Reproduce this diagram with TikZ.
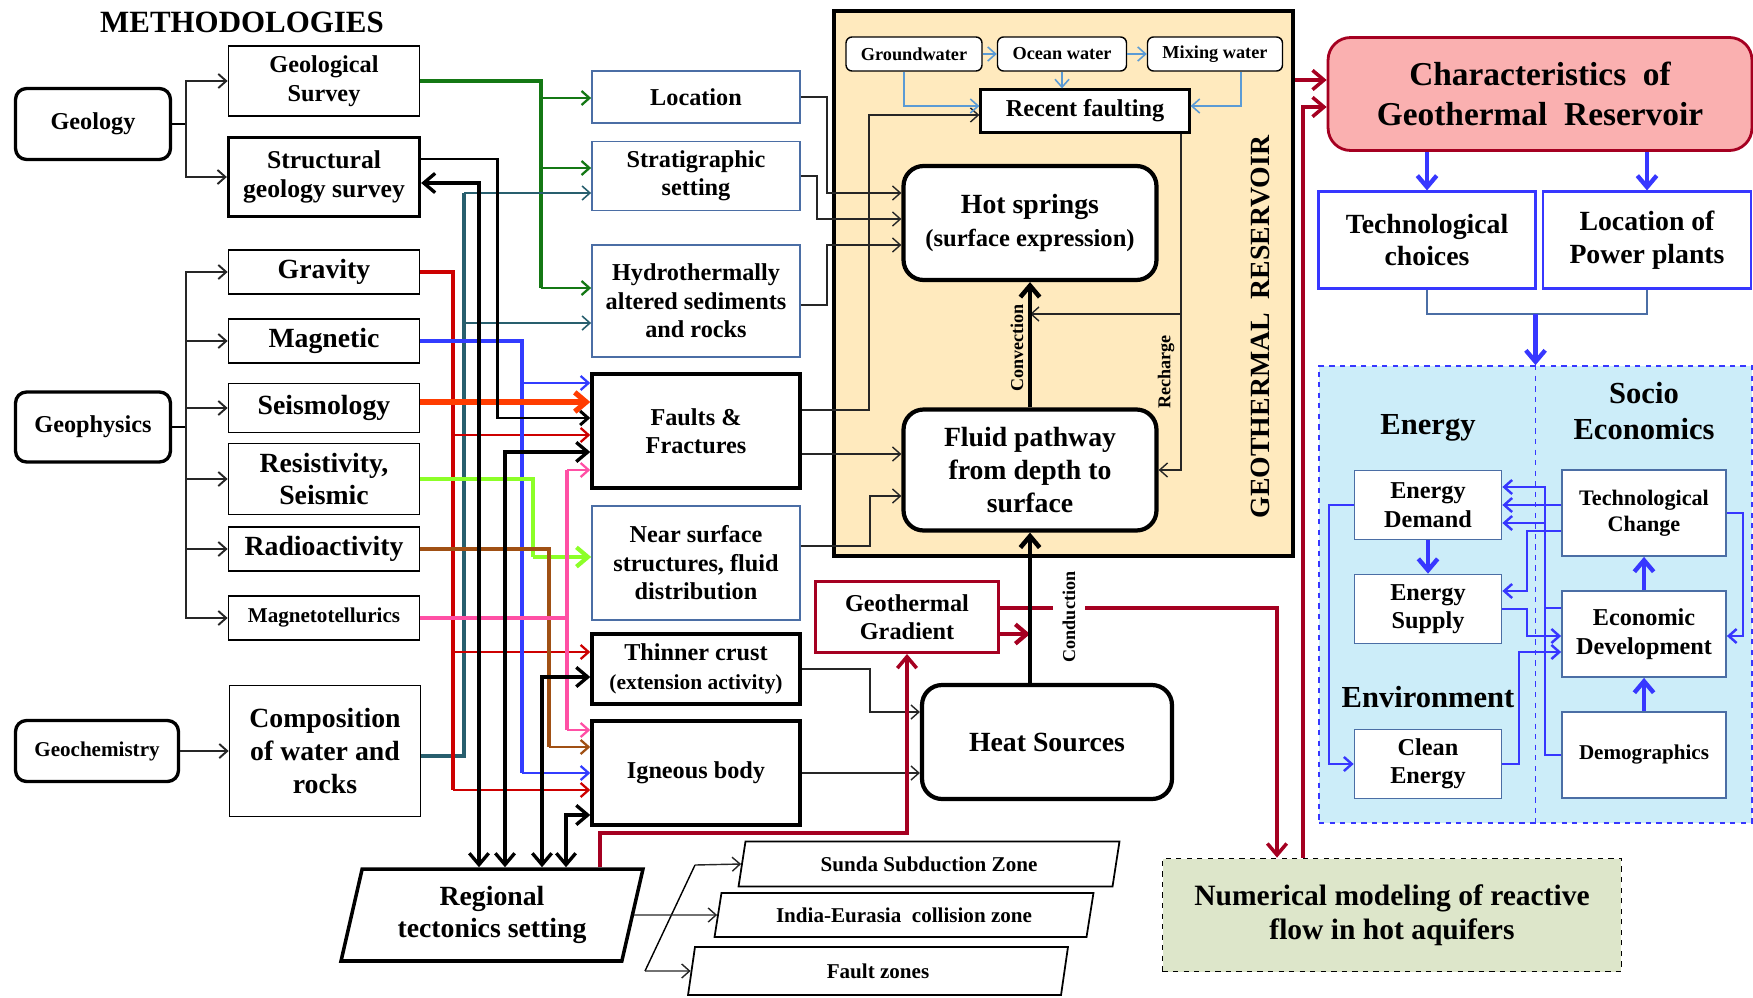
\documentclass[tikz,border=0pt]{standalone}
\usepackage{fontspec}
\setmainfont{Liberation Serif}
\usetikzlibrary{arrows.meta,positioning,calc,shapes.geometric}

\definecolor{crim}{RGB}{165,0,33}
\definecolor{pinkfill}{RGB}{250,176,176}
\definecolor{resfill}{RGB}{255,234,190}
\definecolor{cyanfill}{RGB}{204,237,249}
\definecolor{olivefill}{RGB}{221,230,202}
\definecolor{blu}{RGB}{55,55,255}
\definecolor{steel}{RGB}{75,110,165}
\definecolor{skyln}{RGB}{91,155,213}
\definecolor{grnln}{RGB}{20,120,20}
\definecolor{tealln}{RGB}{40,95,110}
\definecolor{redln}{RGB}{205,0,0}
\definecolor{magln}{RGB}{50,60,255}
\definecolor{orgln}{RGB}{255,60,0}
\definecolor{limeln}{RGB}{140,255,40}
\definecolor{brnln}{RGB}{160,80,20}
\definecolor{pnkln}{RGB}{255,80,165}

\begin{document}
\begin{tikzpicture}[x=0.02cm, y=-0.02cm,
  fmid/.style={font=\fontsize{13.8}{16.2}\selectfont\bfseries},
  fbig/.style={font=\fontsize{15.8}{18.6}\selectfont\bfseries},
  fsml/.style={font=\fontsize{12}{14}\selectfont\bfseries},
  ftiny/.style={font=\fontsize{10.3}{12}\selectfont\bfseries},
  fhead/.style={font=\fontsize{17.4}{20.4}\selectfont\bfseries},
  box/.style={draw, line width=1pt, fill=white, align=center, inner sep=0pt, fmid},
  leftbox/.style={box, minimum width=3.82cm},
  midbox/.style={box, draw=steel, minimum width=4.16cm},
  heavybox/.style={box, line width=2pt, minimum width=4.16cm},
  roundbox/.style={box, rounded corners=0.22cm, line width=1.9pt},
  biground/.style={box, rounded corners=0.4cm, line width=2.4pt, fbig},
  waterbox/.style={box, rounded corners=0.12cm, line width=0.8pt, minimum height=0.68cm, font=\fontsize{10.4}{12}\selectfont\bfseries},
  slant/.style={trapezium, trapezium left angle=65, trapezium right angle=115, trapezium stretches body, draw, line width=1pt, align=center, inner sep=0pt, fsml},
  ebox/.style={box, draw=steel, minimum width=2.94cm, minimum height=1.38cm},
  sbox/.style={box, draw=steel, minimum width=3.28cm, minimum height=1.72cm},
  tip/.style={-{Straight Barb[length=4.5pt,width=8pt]}},
  bigtip/.style={-{Straight Barb[length=6.5pt,width=11pt]}},
  arr/.style={tip, line width=0.8pt, draw=black!85},
  skyarr/.style={tip, line width=0.9pt, draw=skyln},
  bus/.style={line width=2.2pt},
  stub/.style={tip, line width=1.3pt},
  both/.style={{Straight Barb[length=6.5pt,width=11pt]}-{Straight Barb[length=6.5pt,width=11pt]}, line width=1.9pt},
  crarr/.style={bigtip, line width=2pt, draw=crim},
  bluarr/.style={tip, line width=1.4pt, draw=blu},
  bluthick/.style={bigtip, line width=2.5pt, draw=blu}
]
\useasboundingbox (0,0) rectangle (1753,997);

% methodologies
\node[font=\fontsize{17.6}{20}\selectfont\bfseries] (title) at (242,22) {METHODOLOGIES};
\node[roundbox, minimum width=3.1cm, minimum height=1.42cm] (geology) at (93,124) {Geology};
\node[roundbox, minimum width=3.1cm, minimum height=1.4cm] (geophys) at (93,427) {Geophysics};
\node[roundbox, fsml, minimum width=3.26cm, minimum height=1.22cm] (geochem) at (97,751) {Geochemistry};

\node[leftbox, minimum height=1.4cm] (gsurvey) at (324,81) {Geological\\Survey};
\node[leftbox, line width=1.9pt, minimum height=1.58cm, font=\fontsize{14.6}{16.8}\selectfont\bfseries] (struct) at (324,177) {Structural\\geology survey};
\node[leftbox, fbig, minimum height=0.88cm] (gravity) at (324,272) {Gravity};
\node[leftbox, fbig, minimum height=0.88cm] (magnetic) at (324,341) {Magnetic};
\node[leftbox, fbig, minimum height=0.98cm] (seismo) at (324,408) {Seismology};
\node[leftbox, fbig, minimum height=1.42cm] (resist) at (324,479) {Resistivity,\\Seismic};
\node[leftbox, fbig, minimum height=0.88cm] (radio) at (324,549) {Radioactivity};
\node[leftbox, fsml, minimum height=0.88cm] (mtell) at (324,618) {Magnetotellurics};
\node[leftbox, fbig, minimum height=2.62cm] (compo) at (325,751) {Composition\\of water and\\rocks};

% targets
\node[midbox, minimum height=1.04cm] (location) at (696,97) {Location};
\node[midbox, minimum height=1.38cm] (strati) at (696,176) {Stratigraphic\\setting};
\node[midbox, minimum height=2.24cm] (hydro) at (696,301) {Hydrothermally\\altered sediments\\and rocks};
\node[heavybox, minimum height=2.28cm] (faults) at (696,431) {Faults \&\\Fractures};
\node[midbox, minimum height=2.28cm] (nearsurf) at (696,563) {Near surface\\structures, fluid\\distribution};
\node[heavybox, minimum height=1.4cm] (thinner) at (696,669) {Thinner crust\\{\fontsize{12.2}{14}\selectfont(extension activity)}};
\node[heavybox, minimum height=2.08cm] (igneous) at (696,773) {Igneous body};

\node[slant, trapezium left angle=70, trapezium right angle=110, fbig, line width=2pt, minimum width=6.04cm, minimum height=1.84cm] (regional) at (492,915) {Regional\\tectonics setting};
\node[slant, minimum width=7.62cm, minimum height=0.9cm] (sunda) at (929,864) {Sunda Subduction Zone};
\node[slant, minimum width=7.58cm, minimum height=0.88cm] (india) at (904,915) {India-Eurasia\ \ collision zone};
\node[slant, minimum width=7.6cm, minimum height=0.96cm] (faultz) at (878,971) {Fault zones};

% reservoir
\node[draw, line width=2pt, fill=resfill, minimum width=9.18cm, minimum height=10.9cm, inner sep=0pt] (res) at (1063.5,283.5) {};
\node[waterbox, minimum width=2.72cm] (groundw) at (914,54) {Groundwater};
\node[waterbox, minimum width=2.58cm] (oceanw) at (1062,54) {Ocean water};
\node[waterbox, minimum width=2.7cm] (mixw) at (1215,54) {Mixing water};
\node[box, line width=1.3pt, minimum width=4.18cm, minimum height=0.86cm] (recent) at (1085,111) {Recent faulting};
\node[biground, minimum width=5.06cm, minimum height=2.28cm] (hotspr) at (1030,223) {Hot springs\\{\fontsize{14}{16}\selectfont(surface expression)}};
\node[biground, minimum width=5.06cm, minimum height=2.42cm] (fluid) at (1030,470) {Fluid pathway\\from depth to\\surface};
\node[rotate=90, fbig] (reslbl) at (1260,327) {GEOTHERMAL\ \ RESERVOIR};

\node[biground, minimum width=5cm, minimum height=2.28cm] (heat) at (1047,742) {Heat Sources};
\node[box, draw=crim, line width=1.7pt, minimum width=3.66cm, minimum height=1.42cm] (geograd) at (907,617) {Geothermal\\Gradient};

% outcomes
\node[box, draw=crim, fill=pinkfill, line width=1.6pt, rounded corners=0.45cm, minimum width=8.48cm, minimum height=2.26cm, font=\fontsize{19}{22.6}\selectfont\bfseries] (charac) at (1540,94) {Characteristics\ \ of\\Geothermal\ \ Reservoir};
\node[box, draw=blu, line width=1.2pt, fbig, minimum width=4.34cm, minimum height=1.94cm] (techch) at (1427,240) {Technological\\choices};
\node[box, draw=blu, line width=1.2pt, fbig, minimum width=4.16cm, minimum height=1.94cm] (locpp) at (1647,240) {Location of\\Power plants};
\node[draw=blu, dashed, fill=cyanfill, line width=1pt, minimum width=8.66cm, minimum height=9.14cm, inner sep=0pt] (panel) at (1535.5,594.5) {};
\draw[blu, dashed, line width=1pt] (panel.north) -- (panel.south);
\node[fhead] (elabel) at (1428,428) {Energy};
\node[fhead, align=center] (slabel) at (1644,411) {Socio\\Economics};
\node[fhead] (envlabel) at (1428,697) {Environment};
\node[ebox] (edemand) at (1428,505) {Energy\\Demand};
\node[ebox] (esupply) at (1428,609) {Energy\\Supply};
\node[ebox] (clean) at (1428,764) {Clean\\Energy};
\node[sbox, font=\fontsize{12.6}{15}\selectfont\bfseries] (techchg) at (1644,513) {Technological\\Change};
\node[sbox] (econdev) at (1644,634) {Economic\\Development};
\node[sbox, fsml] (demog) at (1644,755) {Demographics};
\node[box, dashed, fill=olivefill, line width=1pt, minimum width=9.18cm, minimum height=2.26cm, font=\fontsize{16.8}{19.6}\selectfont\bfseries] (numer) at (1392,915) {Numerical modeling of reactive\\flow in hot aquifers};

% methodology branches
\coordinate (geobr) at (186,124);
\coordinate (phybr) at (186,427);
\draw[line width=1.1pt] (geology.east) -- (geobr);
\draw[arr, line width=1.1pt] (geobr) |- (gsurvey.west);
\draw[arr, line width=1.1pt] (geobr) |- (struct.west);
\draw[line width=1.1pt] (geophys.east) -- (phybr);
\draw[arr, line width=1.1pt] (phybr) |- (gravity.west);
\draw[arr, line width=1.1pt] (phybr) |- (magnetic.west);
\draw[arr, line width=1.1pt] (phybr) |- (seismo.west);
\draw[arr, line width=1.1pt] (phybr) |- (resist.west);
\draw[arr, line width=1.1pt] (phybr) |- (radio.west);
\draw[arr, line width=1.1pt] (phybr) |- (mtell.west);
\draw[arr, line width=1.1pt] (geochem.east) -- (compo.west);

% coloured routes
\draw[grnln, bus] (gsurvey.east) -| (541,288);
\draw[grnln, stub] (541,98) -- (location.west |- 0,98);
\draw[grnln, stub] (541,168) -- (strati.west |- 0,168);
\draw[grnln, stub] (541,288) -- (hydro.west |- 0,288);

\draw[tealln, bus] (compo.east |- 0,756) -| (464,193);
\draw[tealln, stub, line width=0.9pt] (464,193) -- (strati.west |- 0,193);
\draw[tealln, stub, line width=0.9pt] (464,323) -- (hydro.west |- 0,323);

\draw[redln, bus] (gravity.east) -| (453,790);
\draw[redln, stub] (453,435) -- (faults.west |- 0,435);
\draw[redln, stub] (453,652) -- (thinner.west |- 0,652);
\draw[redln, stub] (453,790) -- (igneous.west |- 0,790);

\draw[magln, bus] (magnetic.east) -| (522,773);
\draw[magln, stub] (522,383) -- (faults.west |- 0,383);
\draw[magln, stub] (522,773) -- (igneous.west |- 0,773);

\draw[orgln, bigtip, line width=3pt] (seismo.east |- 0,402) -- (faults.west |- 0,402);

\draw[limeln, bus] (resist.east) -| (533,557);
\draw[limeln, bigtip, line width=2.4pt] (533,557) -- (nearsurf.west |- 0,557);

\draw[brnln, bus] (radio.east) -| (549,747);
\draw[brnln, stub] (549,747) -- (igneous.west |- 0,747);

\draw[pnkln, bus] (mtell.east) -- (567,618);
\draw[pnkln, bus] (567,470) -- (567,730);
\draw[pnkln, stub] (567,470) -- (faults.west |- 0,470);
\draw[pnkln, stub] (567,730) -- (igneous.west |- 0,730);

% tectonic links
\draw[stub, line width=1.7pt] (struct.east |- 0,159) -| (497,418) -- (faults.west |- 0,418);
\draw[both] (struct.east |- 0,183) -| (479,0 |- regional.north);
\draw[both] (faults.west |- 0,452) -| (505,0 |- regional.north);
\draw[both] (thinner.west |- 0,677) -| (542,0 |- regional.north);
\draw[both] (igneous.west |- 0,815) -| (566,0 |- regional.north);

\coordinate (sunbr) at (695,865);
\coordinate (fltbr) at (645,971);
\draw[line width=0.8pt] (sunbr) -- (fltbr);
\draw[arr] (sunbr) -- (sunda.west);
\draw[arr] (fltbr) -- (faultz.west);
\draw[arr] (regional.east) -- (india.west);

% into the reservoir
\draw[arr] (location.east) -| (827,193) -- (hotspr.west |- 0,193);
\draw[arr] (strati.east) -| (817,219) -- (hotspr.west |- 0,219);
\draw[arr] (hydro.east |- 0,305) -| (827,245) -- (hotspr.west |- 0,245);
\draw[arr] (faults.east |- 0,410) -| (869,115) -- (recent.west |- 0,115);
\draw[arr] (faults.east |- 0,454) -- (fluid.west |- 0,454);
\draw[arr] (nearsurf.east |- 0,546) -| (870,496) -- (fluid.west |- 0,496);
\draw[arr] (thinner.east) -| (870,712) -- (heat.west |- 0,712);
\draw[arr] (igneous.east) -- (heat.west |- igneous.east);

% inside the reservoir
\draw[skyarr] (groundw.east) -- (oceanw.west);
\draw[skyarr] (oceanw.east) -- (mixw.west);
\draw[skyarr] (oceanw.south) -- (oceanw.south |- recent.north);
\draw[skyarr] (904,0 |- groundw.south) |- (recent.west |- 0,106);
\draw[skyarr] (1241,0 |- mixw.south) |- (recent.east |- 0,106);
\draw[arr] (1181,0 |- recent.south) |- (fluid.east);
\draw[arr] (1181,314) -- (fluid.north |- 0,314);
\draw[bigtip, line width=2.6pt] (fluid.north) -- (hotspr.south);
\node[rotate=90, ftiny] (convlbl) at (1017,348) {Convection};
\node[rotate=90, ftiny] (rechlbl) at (1166,372) {Recharge};

% heat and gradient
\draw[crarr] (geograd.east |- 0,608) -| (1277,0 |- numer.north);
\draw[crarr] (600,0 |- regional.north) -- (600,833) -| (geograd.south);
\draw[crarr, line width=2.4pt] (geograd.east |- 0,634) -- (fluid.south |- 0,634);
\draw[bigtip, line width=2.6pt] (fluid.south |- heat.north) -- (fluid.south);
\node[rotate=90, ftiny, fill=white, inner ysep=0.2cm] (condlbl) at (1069,617) {Conduction};

% outcomes
\draw[crarr] (res.east |- 0,80) -- (charac.west |- 0,80);
\draw[crarr] (1303,0 |- numer.north) |- (charac.west |- 0,107);
\draw[bluthick] (techch.north |- charac.south) -- (techch.north);
\draw[bluthick] (locpp.north |- charac.south) -- (locpp.north);
\draw[steel, line width=1.2pt] (techch.south) |- (locpp.south |- 0,314) -- (locpp.south);
\draw[bluthick] (panel.north |- 0,314) -- (panel.north);

\draw[bluthick] (edemand) -- (esupply);
\draw[bluthick] (econdev) -- (techchg);
\draw[bluthick] (demog) -- (econdev);
\draw[bluarr] (techchg.west |- edemand.east) -- (edemand.east);
\draw[bluarr] (econdev.west |- 0,608) -| (1545,523) -- (edemand.east |- 0,523);
\draw[bluarr] (demog.west) -| (1545,487) -- (edemand.east |- 0,487);
\draw[bluarr] (techchg.west |- 0,531) -| (1527,591) -- (esupply.east |- 0,591);
\draw[bluarr] (esupply.east) -| (1527,636) -- (econdev.west |- 0,636);
\draw[bluarr] (clean.east) -| (1519,652) -- (econdev.west |- 0,652);
\draw[bluarr] (edemand.west) -| (1329,0 |- clean.west) -- (clean.west);
\draw[bluarr] (techchg.east) -| (1743,636) -- (econdev.east |- 0,636);

\end{tikzpicture}
\end{document}
